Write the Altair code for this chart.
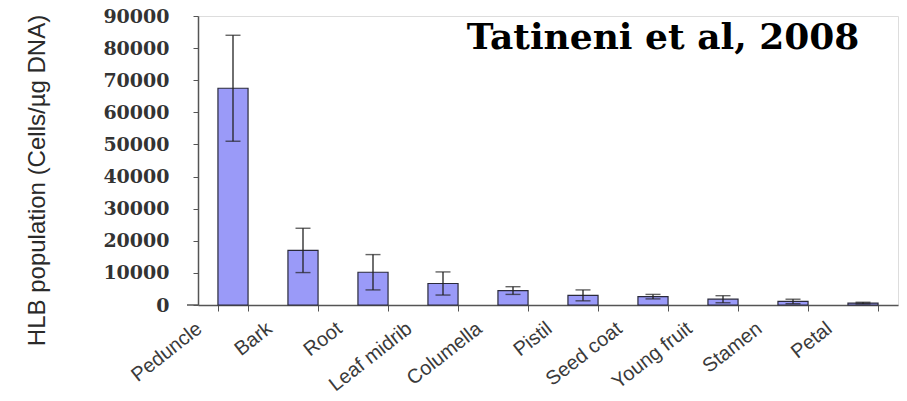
import altair as alt
import pandas as pd

# HLB (Candidatus Liberibacter) population by citrus tissue
tissues = ["Peduncle", "Bark", "Root", "Leaf midrib", "Columella",
           "Pistil", "Seed coat", "Young fruit", "Stamen", "Petal"]
means = [67500, 17000, 10200, 6700, 4500, 3000, 2600, 1800, 1100, 600]
errors = [16500, 6900, 5500, 3600, 1200, 1700, 700, 1100, 700, 250]

df = pd.DataFrame({"tissue": tissues, "mean": means, "err": errors})
df["lo"] = df["mean"] - df["err"]
df["hi"] = df["mean"] + df["err"]

AXIS_GREY = "#555555"
PLOT_H = 289

x_scale = alt.Scale(paddingInner=0.57, paddingOuter=0.285)
y_scale = alt.Scale(domain=[0, 90000], nice=False, zero=True)
y_title = "HLB population (Cells/\u00b5g DNA)"

x_axis = alt.Axis(
    title=None,
    labelAngle=322,
    labelAlign="right",
    labelBaseline="top",
    labelFont="Liberation Sans",
    labelFontSize=20,
    labelColor="#3a3a3a",
    labelPadding=7,
    labelOffset=-40,
    labelOverlap=False,
    tickBand="extent",
    tickSize=6,
    tickColor=AXIS_GREY,
    domainColor=AXIS_GREY,
    domainWidth=1.5,
)

y_axis = alt.Axis(
    title=y_title,
    titleFont="Liberation Sans",
    titleFontSize=24,
    titleFontWeight="normal",
    titleColor="#2a2a2a",
    titleAngle=270,
    titleX=-161,
    titleY=164,
    titleAlign="center",
    titleBaseline="middle",
    values=list(range(0, 90001, 10000)),
    format="d",
    labelFont="DejaVu Serif",
    labelFontWeight="bold",
    labelFontSize=19,
    labelColor="#333333",
    labelPadding=24,
    labelOverlap=False,
    tickSize=5,
    tickColor=AXIS_GREY,
    domainColor=AXIS_GREY,
    domainWidth=1.5,
    grid=False,
)


def x_enc():
    return alt.X("tissue:N", sort=tissues, scale=x_scale, axis=x_axis)


def y_enc(field):
    return alt.Y(field, scale=y_scale, axis=y_axis, title=y_title)


bars = alt.Chart(df).mark_bar(
    color="#9a9af8", stroke="#2a2a3a", strokeWidth=1.2
).encode(x=x_enc(), y=y_enc("mean:Q"))

whisker = alt.Chart(df).mark_rule(color="#222222", strokeWidth=1.3).encode(
    x=x_enc(), y=y_enc("lo:Q"), y2="hi:Q"
)

caps_hi = alt.Chart(df).mark_tick(
    color="#222222", thickness=1.4, size=15, orient="horizontal"
).encode(x=x_enc(), y=y_enc("hi:Q"))

caps_lo = alt.Chart(df).mark_tick(
    color="#222222", thickness=1.4, size=15, orient="horizontal"
).encode(x=x_enc(), y=y_enc("lo:Q"))

# baseline stub continuing left of the value axis
stub = alt.Chart(pd.DataFrame({"k": [0]})).mark_rule(
    color=AXIS_GREY, strokeWidth=1.5
).encode(x=alt.value(-11), x2=alt.value(0), y=alt.value(PLOT_H))

citation = alt.Chart(pd.DataFrame({"label": ["Tatineni et al, 2008"]})).mark_text(
    font="DejaVu Serif",
    fontWeight="bold",
    fontSize=36,
    color="#000000",
    align="center",
    baseline="alphabetic",
).encode(text="label:N", x=alt.value(465), y=alt.value(33))

chart = (
    alt.layer(bars, whisker, caps_hi, caps_lo, stub, citation)
    .properties(
        width=700,
        height=PLOT_H,
        autosize=alt.AutoSizeParams(type="none"),
        padding={"left": 198, "top": 16, "right": 9, "bottom": 96},
    )
    .configure_view(strokeWidth=0)
    .configure(background="white")
)

chart.save("out.html", embed_options={"renderer": "svg", "actions": False})
